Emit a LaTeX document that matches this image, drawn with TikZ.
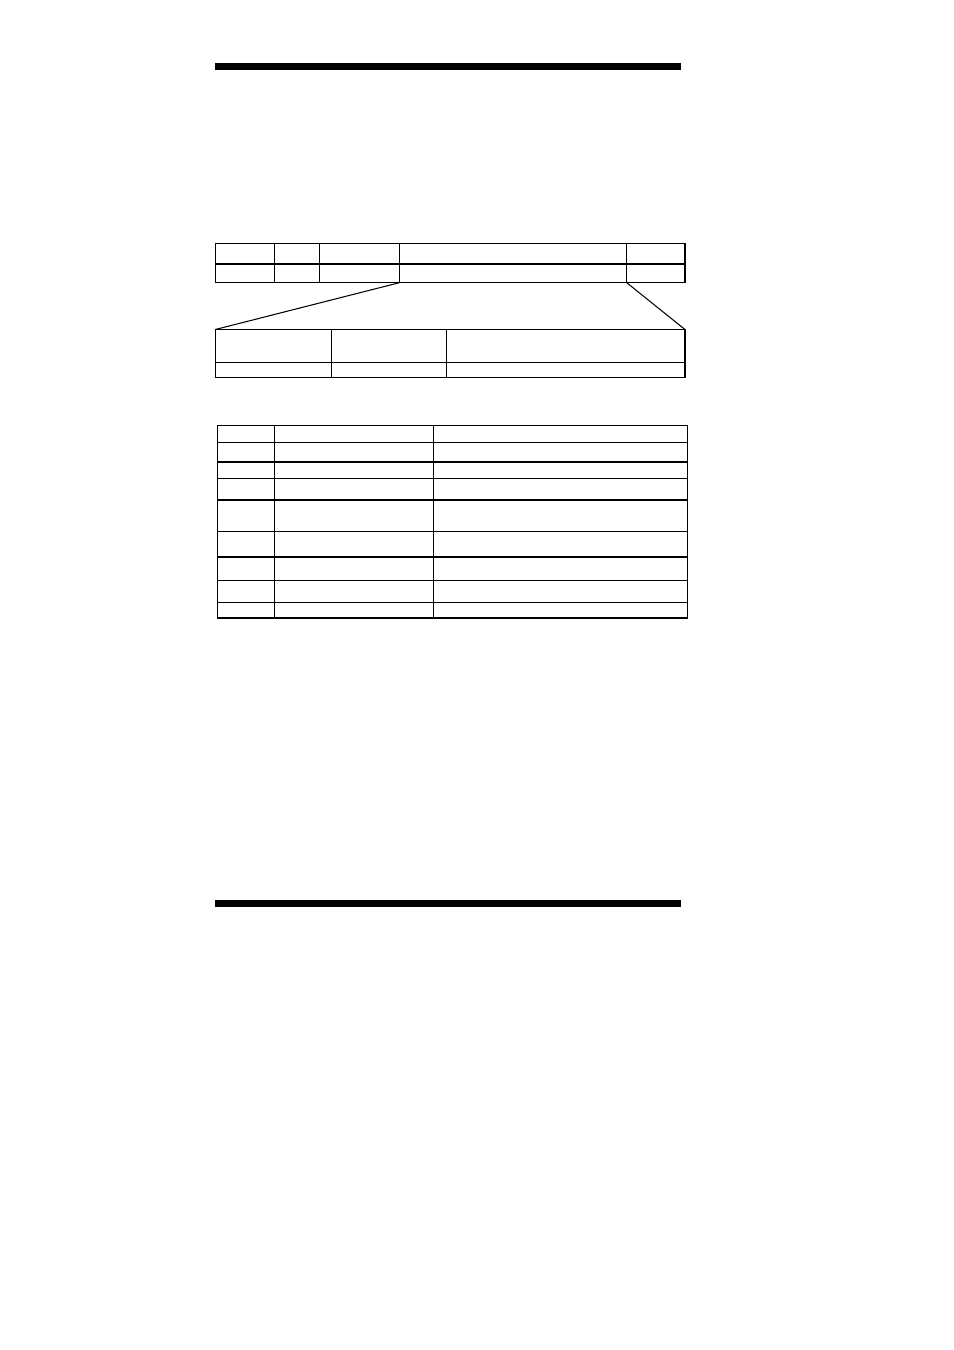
\documentclass[tikz,border=0pt]{standalone}
\usepackage{tikz}
\usetikzlibrary{positioning,calc}

\tikzset{
  cell/.style={draw, line width=0.6pt, inner sep=0pt, outer sep=0pt, anchor=north west},
  rule/.style={fill=black}
}

\begin{document}
\begin{tikzpicture}[x=0.02cm, y=-0.02cm]
    % Page
    \useasboundingbox (0,0) rectangle (954,1350);

    % Heavy rules
    \fill[rule] (215,63) rectangle (681,70);
    \fill[rule] (215,900) rectangle (681,907);

    % Frame fields
    \foreach \a/\b/\n in {215.3/274.3/1, 274.3/319.3/2, 319.3/399.3/3,
        399.3/626.7/4, 626.7/685/5} {
        \node[cell, minimum width={(\b-\a)*0.02cm}, minimum height={20.7*0.02cm}] (fh\n) at (\a,243.3) {};
        \node[cell, minimum width={(\b-\a)*0.02cm}, minimum height={18.7*0.02cm}] (f\n) at (\a,264) {};
    }

    % Expanded field
    \foreach \a/\b/\n in {215.3/331.3/1, 331.3/446.3/2, 446.3/685/3} {
        \node[cell, minimum width={(\b-\a)*0.02cm}, minimum height={32.8*0.02cm}] (dh\n) at (\a,329.5) {};
        \node[cell, minimum width={(\b-\a)*0.02cm}, minimum height={15.4*0.02cm}] (d\n) at (\a,362.3) {};
    }

    % Zoom lines
    \draw[line width=0.6pt] (f4.south west) -- (dh1.north west);
    \draw[line width=0.6pt] (f5.south west) -- (dh3.north east);

    % Code table
    \foreach \t/\u [count=\i] in {425.3/442.3, 442.3/462, 462/478.3,
        478.3/500, 500/531.3, 531.3/557, 557/580.7, 580.7/602.3, 602.3/618} {
        \foreach \a/\b [count=\j] in {217.3/274.3, 274.3/433.3, 433.3/687.3} {
            \node[cell, minimum width={(\b-\a)*0.02cm}, minimum height={(\u-\t)*0.02cm}] (t\i-\j) at (\a,\t) {};
        }
    }
\end{tikzpicture}
\end{document}
